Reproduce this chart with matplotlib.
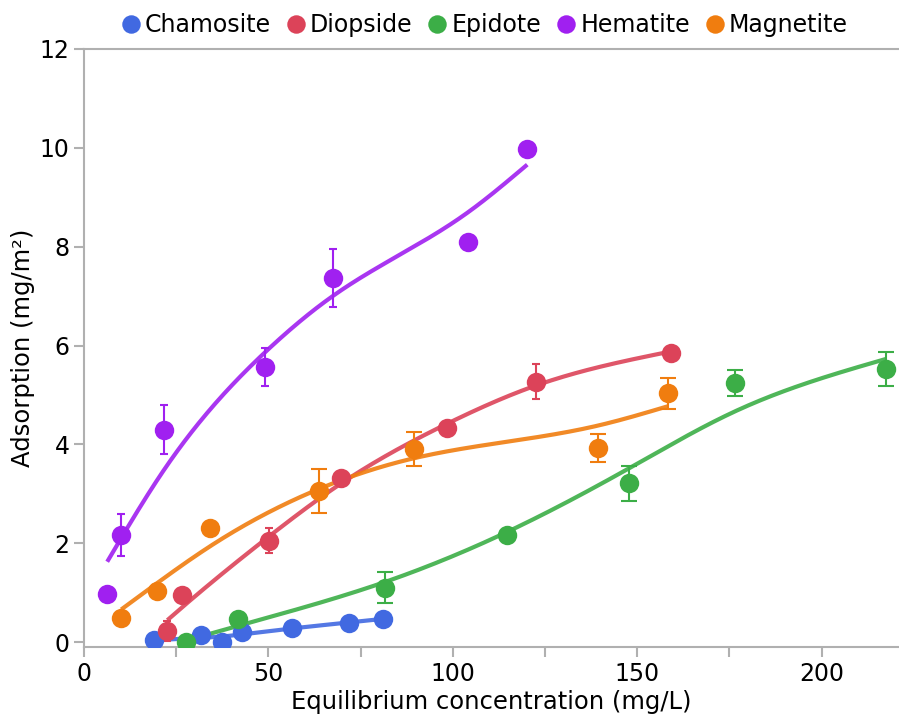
import numpy as np
import matplotlib.pyplot as plt

# ============ DATA ============
chamosite_x = [19.1, 31.7, 37.4, 42.8, 56.5, 72.0, 81.0]
chamosite_y = [0.04, 0.14, 0.0, 0.20, 0.29, 0.39, 0.47]
chamosite_err = [0, 0, 0, 0, 0, 0, 0]

diopside_x = [22.6, 26.7, 50.2, 69.6, 98.5, 122.5, 159.3]
diopside_y = [0.22, 0.95, 2.05, 3.31, 4.34, 5.27, 5.84]
diopside_err = [0.2, 0, 0.25, 0, 0, 0.36, 0]

epidote_x = [27.8, 41.7, 81.6, 114.7, 147.8, 176.4, 217.6]
epidote_y = [0.0, 0.47, 1.10, 2.17, 3.21, 5.24, 5.52]
epidote_err = [0, 0, 0.32, 0, 0.36, 0.27, 0.34]

hematite_x = [6.3, 10.1, 21.8, 49.1, 67.4, 104.0, 120.2]
hematite_y = [0.97, 2.17, 4.30, 5.56, 7.36, 8.09, 9.98]
hematite_err = [0, 0.43, 0.49, 0.38, 0.59, 0.1, 0]

magnetite_x = [10.1, 19.9, 34.1, 63.6, 89.5, 139.3, 158.3]
magnetite_y = [0.49, 1.03, 2.31, 3.06, 3.91, 3.92, 5.03]
magnetite_err = [0, 0, 0, 0.44, 0.34, 0.28, 0.32]

names = ['Chamosite', 'Diopside', 'Epidote', 'Hematite', 'Magnetite']
colors = ['#4169e1', '#dc4359', '#3cae47', '#a020f0', '#f07d0f']


# smoothing spline (penalised second differences on a fine grid)
def smooth_fit(x, y, lam, n=300):
    x = np.asarray(x, float)
    y = np.asarray(y, float)
    u = (x - x.min()) / (x.max() - x.min())
    g = np.linspace(0, 1, n)
    h = g[1] - g[0]
    A = np.zeros((len(x), n))
    for i, ui in enumerate(u):
        j = min(int(ui / h), n - 2)
        t = (ui - g[j]) / h
        A[i, j] = 1 - t
        A[i, j + 1] = t
    D = np.diff(np.eye(n), 2, axis=0) / h**2
    f = np.linalg.solve(A.T @ A + lam * h * D.T @ D, A.T @ y)
    return x.min() + g * (x.max() - x.min()), f


series = [
    (chamosite_x, chamosite_y, chamosite_err, 4, 2e-3),
    (diopside_x, diopside_y, diopside_err, 3, 1e-3),
    (epidote_x, epidote_y, epidote_err, 6, 2e-3),
    (hematite_x, hematite_y, hematite_err, 3, 3e-3),
    (magnetite_x, magnetite_y, magnetite_err, 6, 3e-3),
]

# ============ PLOT ============
fig = plt.figure(figsize=(8.99, 7.18), dpi=100)
ax = fig.add_axes([0.0934, 0.0989, 0.9066, 0.8329])

for name, color, (x, y, err, cap, lam) in zip(names, colors, series):
    xs, ys = smooth_fit(x, y, lam)
    ax.plot(xs, ys, color=color, lw=3, alpha=0.9,
            solid_capstyle='butt', zorder=2)
    ax.errorbar(x, y, yerr=err, fmt='none', ecolor=color, elinewidth=1.5,
                capsize=cap, capthick=1.5, zorder=3)
    ax.plot(x, y, 'o', color=color, ms=14, mec='none', label=name, zorder=4)

ax.set_xlim(0, 221)
ax.set_ylim(-0.1, 12)
ax.set_xticks([0, 50, 100, 150, 200])
ax.set_xticks([25, 75, 125, 175], minor=True)
ax.set_yticks([0, 2, 4, 6, 8, 10, 12])

for side in ['left', 'bottom', 'top']:
    ax.spines[side].set_color('#b0b0b0')
    ax.spines[side].set_linewidth(1.5)
ax.spines['right'].set_visible(False)
ax.tick_params(which='both', color='#b0b0b0', width=1.5, length=7,
               labelsize=17)

ax.set_xlabel('Equilibrium concentration (mg/L)', fontsize=17.5, labelpad=3)
ax.set_ylabel('Adsorption (mg/m²)', fontsize=17.5, labelpad=3)

fig.legend(loc='center', bbox_to_anchor=(0.537, 0.965), ncol=5,
           frameon=False, fontsize=17, handletextpad=0.05,
           columnspacing=0.5, handlelength=1.1, markerscale=0.95,
           borderpad=0.1)

plt.savefig('out.png', dpi=100)
plt.close()
